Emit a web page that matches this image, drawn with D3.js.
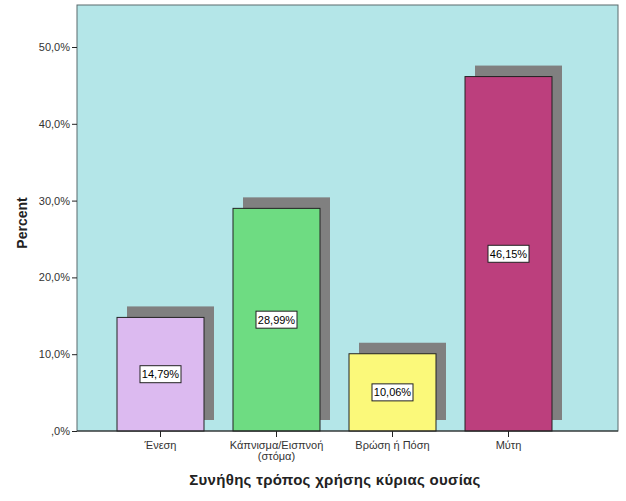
<!DOCTYPE html>
<html>
<head>
<meta charset="utf-8">
<script src="https://cdn.jsdelivr.net/npm/d3@7"></script>
<style>
body { margin: 0; background: #fff; }
text { font-family: "Liberation Sans", Arial, sans-serif; }
</style>
</head>
<body>
<div id="chart"></div>
<script>
// categories and values
var categories = ["\u0388\u03bd\u03b5\u03c3\u03b7", "\u039a\u03ac\u03c0\u03bd\u03b9\u03c3\u03bc\u03b1/\u0395\u03b9\u03c3\u03c0\u03bd\u03bf\u03ae|(\u03c3\u03c4\u03cc\u03bc\u03b1)", "\u0392\u03c1\u03ce\u03c3\u03b7 \u03ae \u03a0\u03cc\u03c3\u03b7", "\u039c\u03cd\u03c4\u03b7"];
var percents = [14.79, 28.99, 10.06, 46.15];
var labels = ["14,79%", "28,99%", "10,06%", "46,15%"];
var colors = ["#dcbaf0", "#6edc82", "#fbf97a", "#bc3f7d"];
var yTicks = [0, 10, 20, 30, 40, 50];

var W = 626, H = 501;
var plot = { left: 77, right: 618, top: 5, bottom: 431 };

var svg = d3.select("#chart").append("svg")
  .attr("width", W)
  .attr("height", H);

var x = d3.scaleBand()
  .domain(categories)
  .range([102.5, 566.5])
  .paddingInner(0.25)
  .paddingOuter(0.125);

var y = d3.scaleLinear()
  .domain([0, 50])
  .range([plot.bottom, 47]);

// plot background
svg.append("rect")
  .attr("x", plot.left)
  .attr("y", plot.top)
  .attr("width", plot.right - plot.left)
  .attr("height", plot.bottom - plot.top)
  .attr("fill", "#b4e6e8")
  .attr("stroke", "#5a6a6c")
  .attr("stroke-width", 1);

var data = categories.map(function(c, i) {
  return { cat: c, v: percents[i], label: labels[i], color: colors[i] };
});

// shadows
svg.selectAll(".shadow")
  .data(data)
  .enter().append("rect")
  .attr("class", "shadow")
  .attr("x", function(d) { return x(d.cat) + 10; })
  .attr("y", function(d) { return y(d.v) - 11; })
  .attr("width", x.bandwidth())
  .attr("height", function(d) { return y(0) - y(d.v); })
  .attr("fill", "#808080");

// bars
svg.selectAll(".bar")
  .data(data)
  .enter().append("rect")
  .attr("class", "bar")
  .attr("x", function(d) { return x(d.cat); })
  .attr("y", function(d) { return y(d.v); })
  .attr("width", x.bandwidth())
  .attr("height", function(d) { return y(0) - y(d.v); })
  .attr("fill", function(d) { return d.color; })
  .attr("stroke", "#222")
  .attr("stroke-width", 1);

// value labels
var lab = svg.selectAll(".lab")
  .data(data)
  .enter().append("g")
  .attr("class", "lab")
  .attr("transform", function(d) {
    return "translate(" + (x(d.cat) + x.bandwidth() / 2) + "," + ((y(d.v) + y(0)) / 2) + ")";
  });
lab.append("rect")
  .attr("x", -20.5)
  .attr("y", -8.5)
  .attr("width", 41)
  .attr("height", 17)
  .attr("fill", "#fff")
  .attr("stroke", "#222");
lab.append("text")
  .attr("text-anchor", "middle")
  .attr("dy", 4)
  .attr("font-size", 11)
  .attr("fill", "#000")
  .text(function(d) { return d.label; });

// y axis
var yAxis = svg.append("g")
  .attr("transform", "translate(" + plot.left + ",0)")
  .call(d3.axisLeft(y).tickValues(yTicks).tickSize(5).tickPadding(2)
    .tickFormat(function(d) { return d === 0 ? ",0%" : d + ",0%"; }));
yAxis.select(".domain").remove();
yAxis.selectAll(".tick line").attr("stroke", "#222");
yAxis.selectAll("text").attr("font-size", 11).attr("fill", "#333")
  .style("font-family", "Liberation Sans, Arial, sans-serif");

// x axis
var xAxis = svg.append("g")
  .attr("transform", "translate(0," + plot.bottom + ")")
  .call(d3.axisBottom(x).tickSize(6).tickFormat(""));
xAxis.select(".domain").attr("stroke", "#222").attr("d", "M" + plot.left + ",0H" + plot.right);
xAxis.selectAll(".tick line").attr("stroke", "#222");
xAxis.selectAll(".tick").append("text")
  .attr("text-anchor", "middle")
  .attr("font-size", 11)
  .attr("fill", "#333")
  .style("font-family", "Liberation Sans, Arial, sans-serif")
  .each(function(d) {
    var parts = d.split("|");
    var t = d3.select(this);
    parts.forEach(function(p, i) {
      t.append("tspan").attr("x", 0).attr("y", 18 + i * 11).text(p);
    });
  });

// axis titles
svg.append("text")
  .attr("transform", "translate(27," + ((plot.top + plot.bottom) / 2 + 5) + ") rotate(-90)")
  .attr("text-anchor", "middle")
  .attr("font-size", 14)
  .attr("font-weight", "bold")
  .attr("fill", "#222")
  .text("Percent");

svg.append("text")
  .attr("x", 335)
  .attr("y", 485)
  .attr("text-anchor", "middle")
  .attr("font-size", 15)
  .attr("font-weight", "bold")
  .attr("letter-spacing", 0.3)
  .attr("fill", "#222")
  .text("\u03a3\u03c5\u03bd\u03ae\u03b8\u03b7\u03c2 \u03c4\u03c1\u03cc\u03c0\u03bf\u03c2 \u03c7\u03c1\u03ae\u03c3\u03b7\u03c2 \u03ba\u03cd\u03c1\u03b9\u03b1\u03c2 \u03bf\u03c5\u03c3\u03af\u03b1\u03c2");
</script>
</body>
</html>
